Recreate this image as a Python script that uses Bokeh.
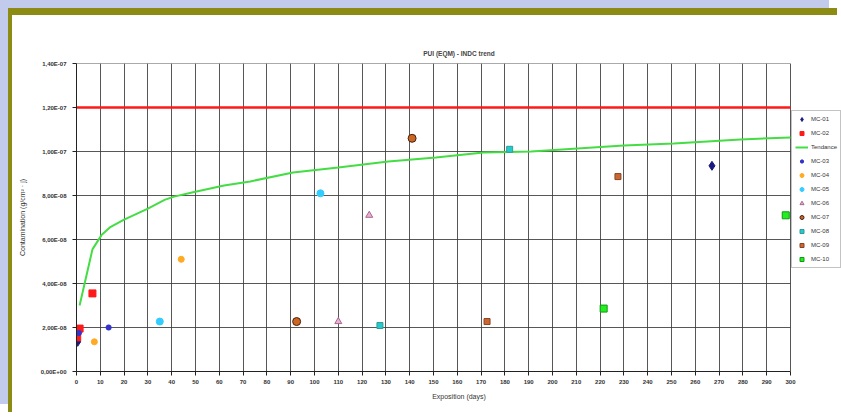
from bokeh.plotting import figure
from bokeh.models import Legend, LegendItem, FixedTicker
from bokeh.embed import file_html
from bokeh.resources import INLINE

# ---- data ----
mc01_x = [0.5, 267]
mc01_y = [1.35e-08, 9.35e-08]
mc02_x = [0.3, 1.3, 6.7]
mc02_y = [1.55e-08, 1.95e-08, 3.55e-08]
mc03_x = [1.0, 13.5]
mc03_y = [1.75e-08, 2.0e-08]
mc04_x = [7.5, 44]
mc04_y = [1.35e-08, 5.1e-08]
mc05_x = [35, 102.5]
mc05_y = [2.27e-08, 8.1e-08]
mc06_x = [110, 123]
mc06_y = [2.27e-08, 7.1e-08]
mc07_x = [92.5, 141]
mc07_y = [2.27e-08, 1.06e-07]
mc08_x = [127.5, 182]
mc08_y = [2.09e-08, 1.01e-07]
mc09_x = [172.5, 227.5]
mc09_y = [2.27e-08, 8.86e-08]
mc10_x = [221.5, 298]
mc10_y = [2.86e-08, 7.1e-08]

trend_x = [1.3, 6.7, 10.5, 14, 20, 30, 37, 41, 49, 62, 73, 91, 110, 131, 151, 171, 191, 230, 251, 279, 300]
trend_y = [3.0e-08, 5.55e-08, 6.2e-08, 6.55e-08, 6.9e-08, 7.4e-08, 7.8e-08, 7.95e-08, 8.15e-08, 8.45e-08,
           8.64e-08, 9.05e-08, 9.27e-08, 9.55e-08, 9.73e-08, 9.95e-08, 1.0e-07, 1.027e-07, 1.036e-07,
           1.055e-07, 1.064e-07]

limit_value = 1.2e-07

x_ticks = list(range(0, 301, 10))
y_ticks = [0.0, 2e-08, 4e-08, 6e-08, 8e-08, 1e-07, 1.2e-07, 1.4e-07]
y_tick_labels = ["0,00E+00", "2,00E-08", "4,00E-08", "6,00E-08", "8,00E-08",
                 "1,00E-07", "1,20E-07", "1,40E-07"]

title_text = "PUI (EQM) - INDC trend"
x_label = "Exposition (days)"
y_label = "Contamination (g/cm² · j)"
legend_labels = ["MC-01", "MC-02", "Tendance", "MC-03", "MC-04", "MC-05",
                 "MC-06", "MC-07", "MC-08", "MC-09", "MC-10"]

FONT = "Liberation Sans"

# layout (pixels)
FIG_W, FIG_H = 829, 404
LEFT, TOP, BOTTOM = 64, 48, 48
PLOT_W = 714                     # pixels used by 0..300 days
frame_w = FIG_W - LEFT
x_start, x_end = x_ticks[0], x_ticks[-1]
x_view_end = x_start + (x_end - x_start) * frame_w / PLOT_W   # room for the legend on the right

p = figure(width=FIG_W, height=FIG_H, output_backend="svg", toolbar_location=None,
           x_range=(x_start, x_view_end), y_range=(y_ticks[0], y_ticks[-1]),
           min_border_left=LEFT, min_border_right=0, min_border_top=TOP, min_border_bottom=BOTTOM)
p.styles = {"border-top": "7px solid #8c8c14", "border-left": "4px solid #8c8c14",
            "margin-top": "8px", "margin-left": "8px",
            "box-shadow": "-8px -8px 0 0 #c3cbec"}

p.title.text = title_text
p.title.align = "center"
p.title.text_font = FONT
p.title.text_font_size = "6.5px"
p.title.text_font_style = "bold"
p.title.offset = -(frame_w - PLOT_W) / 2
p.title.standoff = 14

p.background_fill_color = "white"
p.border_fill_color = "white"
p.outline_line_color = None

p.xaxis.ticker = FixedTicker(ticks=x_ticks)
p.yaxis.ticker = FixedTicker(ticks=y_ticks)
p.yaxis.major_label_overrides = {t: l for t, l in zip(y_ticks, y_tick_labels)}
p.xaxis.major_label_overrides = {t: str(t) for t in x_ticks}
p.xaxis.bounds = (x_start, x_end)

for ax in (p.xaxis, p.yaxis):
    ax.major_label_text_font = FONT
    ax.major_label_text_font_size = "6px"
    ax.major_label_text_font_style = "bold"
    ax.major_label_text_color = "#333333"
    ax.axis_label_text_font = FONT
    ax.axis_label_text_font_size = "7px"
    ax.axis_label_text_font_style = "normal"
    ax.axis_label_text_color = "#333333"
    ax.axis_line_color = "#222222"
    ax.major_tick_line_color = "#222222"
    ax.minor_tick_line_color = None
    ax.major_tick_in = 0
    ax.major_tick_out = 4
p.xaxis.axis_label = x_label
p.yaxis.axis_label = y_label
p.xaxis.major_label_standoff = 4
p.yaxis.major_label_standoff = 6
p.xaxis.axis_label_standoff = 6
p.yaxis.axis_label_standoff = 12

GRID_COLOR = "#3a3a3a"
p.xgrid.ticker = FixedTicker(ticks=x_ticks)
p.xgrid.grid_line_color = GRID_COLOR
p.xgrid.grid_line_alpha = 0.85
p.ygrid.grid_line_color = None
# horizontal grid lines stop at the last day, as in the reference
p.segment(x0=[x_start] * len(y_ticks), x1=[x_end] * len(y_ticks), y0=y_ticks, y1=y_ticks,
          line_color=GRID_COLOR, line_alpha=0.85, line_width=1)

# limit line
p.line([x_start, x_end], [limit_value, limit_value], line_color="#ff1a1a", line_width=2.5)

r_tr = p.line(trend_x, trend_y, line_color="#44dd44", line_width=2)

r01 = p.scatter(mc01_x, mc01_y, marker="diamond", size=9, color="#1a1a80")
r02 = p.scatter(mc02_x, mc02_y, marker="square", size=7, color="#ff1a1a")
r03 = p.scatter(mc03_x, mc03_y, marker="asterisk", size=6, line_color="#3333cc", line_width=2)
r04 = p.scatter(mc04_x, mc04_y, marker="circle", size=6, color="#ffaa22")
r05 = p.scatter(mc05_x, mc05_y, marker="circle", size=7, color="#33ccff")
r06 = p.scatter(mc06_x, mc06_y, marker="triangle", size=7, fill_color="#e8b0d8", line_color="#aa6688")
r07 = p.scatter(mc07_x, mc07_y, marker="circle", size=8, fill_color="#cc6622", line_color="#442211")
r08 = p.scatter(mc08_x, mc08_y, marker="square", size=6, fill_color="#22cccc", line_color="#339999")
r09 = p.scatter(mc09_x, mc09_y, marker="square", size=6, fill_color="#cc6633", line_color="#884422")
r10 = p.scatter(mc10_x, mc10_y, marker="square", size=7, fill_color="#22ee22", line_color="#119911")

renderers = [r01, r02, r_tr, r03, r04, r05, r06, r07, r08, r09, r10]
legend = Legend(items=[LegendItem(label=lab, renderers=[r]) for lab, r in zip(legend_labels, renderers)],
                location=(PLOT_W + 1, 103))
legend.label_text_font = FONT
legend.label_text_font_size = "6px"
legend.label_text_color = "#333333"
legend.label_standoff = 3
legend.glyph_width = 13
legend.glyph_height = 10
legend.label_height = 10
legend.spacing = 4
legend.padding = 3
legend.margin = 0
legend.border_line_color = "#888888"
legend.border_line_width = 1.5
legend.background_fill_color = "white"
legend.background_fill_alpha = 1
p.add_layout(legend, "center")

open("out.html", "w").write(file_html(p, INLINE))
